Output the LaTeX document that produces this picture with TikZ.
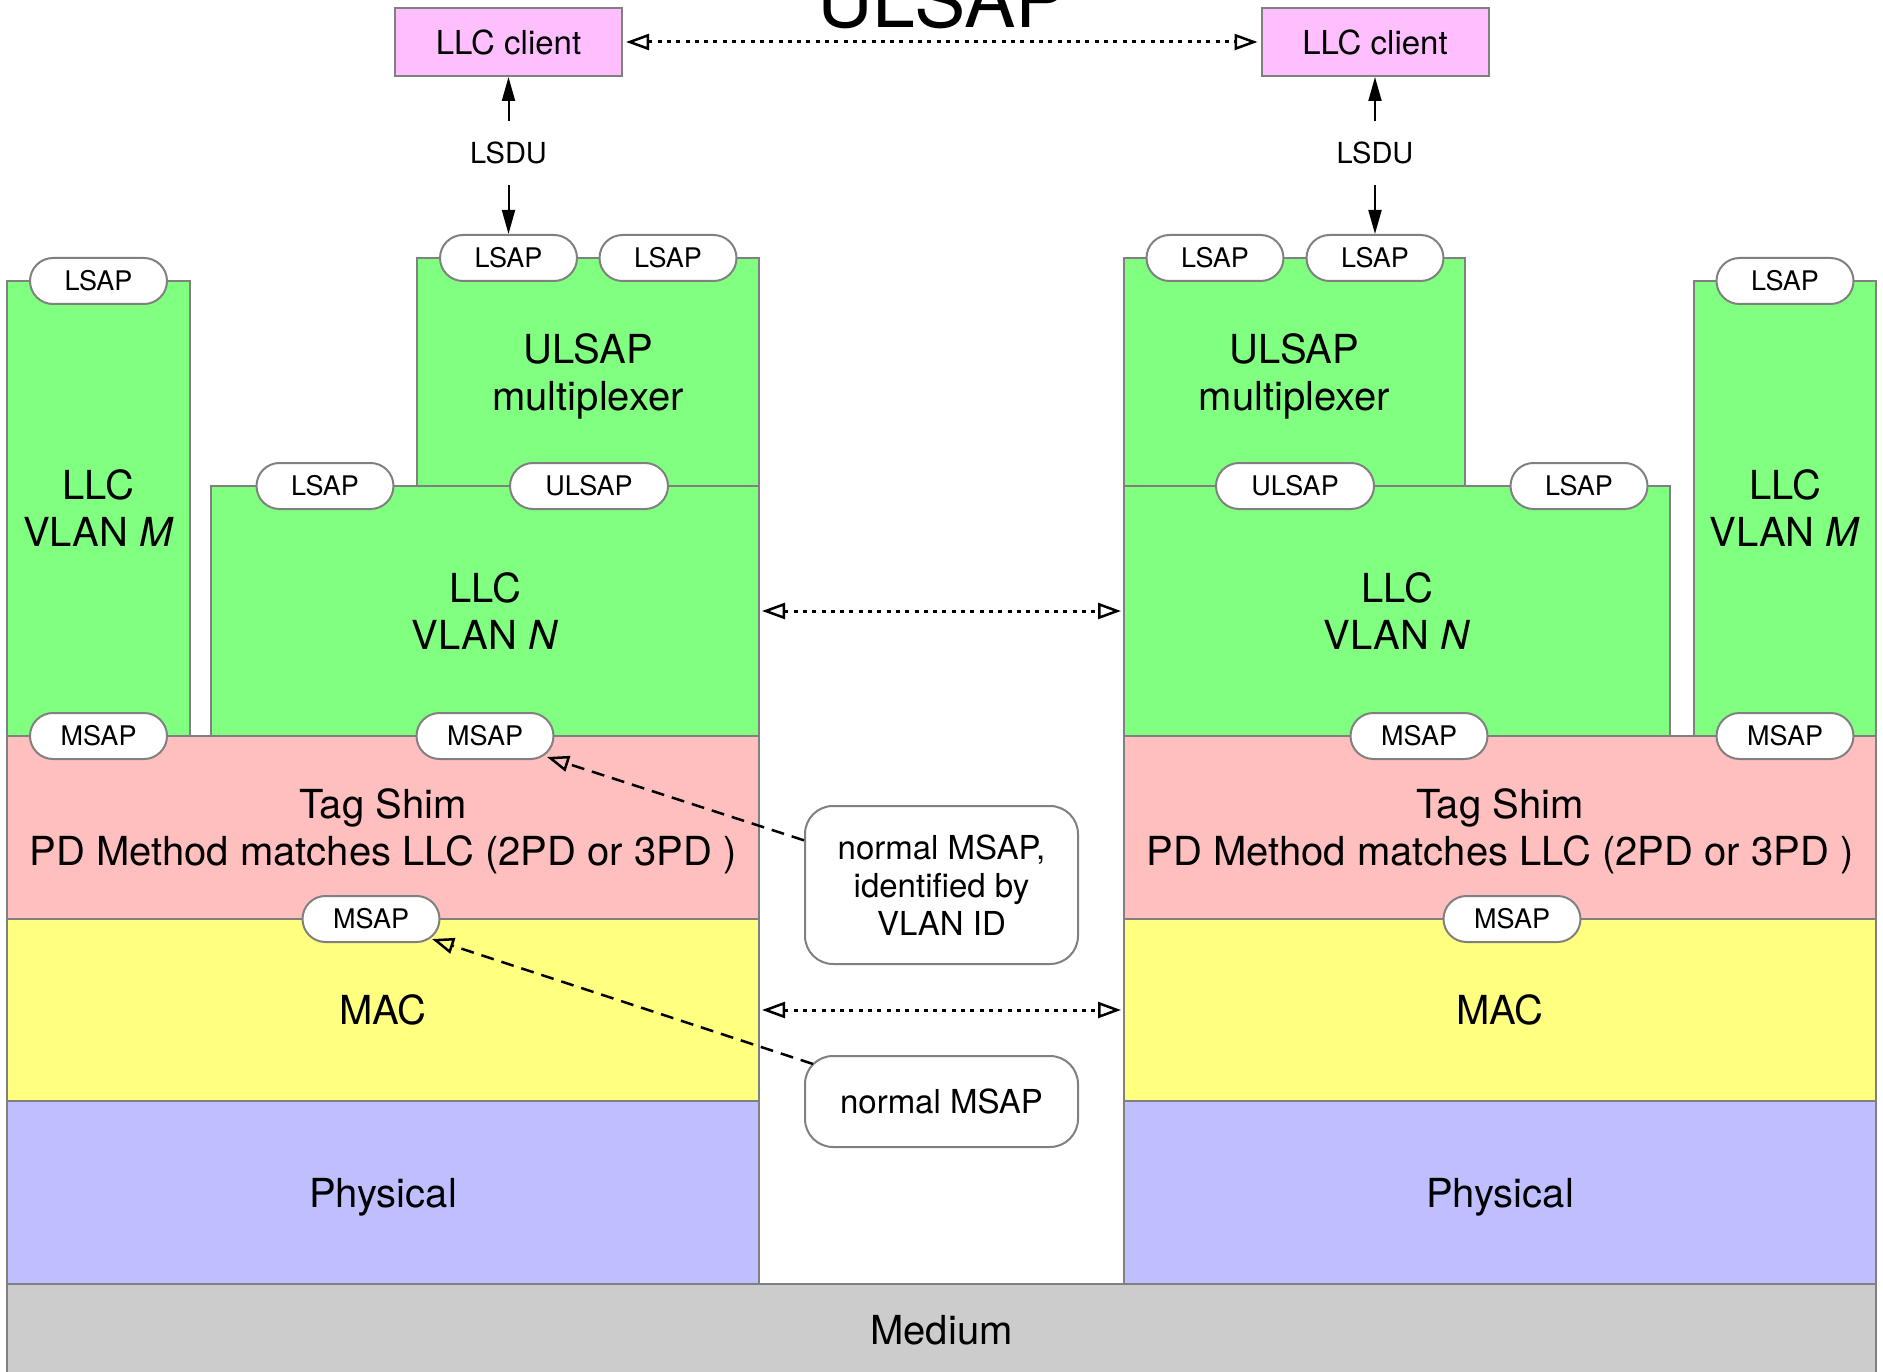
\documentclass[tikz,border=0pt]{standalone}
\usepackage{fontspec}
\setmainfont{TeX Gyre Heros}
\usetikzlibrary{arrows.meta,calc}
\definecolor{bord}{HTML}{808080}
\definecolor{llcgreen}{HTML}{80FF80}
\definecolor{shimpink}{HTML}{FFBFBF}
\definecolor{macyellow}{HTML}{FFFF80}
\definecolor{phyblue}{HTML}{BFBFFF}
\definecolor{medgray}{HTML}{CCCCCC}
\definecolor{clientpink}{HTML}{FFBFFF}
\begin{document}
\begin{tikzpicture}[x=1pt,y=-1pt,
  layer/.style={draw=bord,line width=2pt,inner sep=0pt,align=center,text depth=0pt,font=\fontsize{40}{47}\selectfont},
  pill/.style={draw=bord,fill=white,line width=2pt,rounded corners=23pt,minimum width=137pt,minimum height=46pt,inner sep=0pt,font=\fontsize{27}{32}\selectfont},
  wpill/.style={pill,minimum width=158pt},
  notebox/.style={draw=bord,fill=white,line width=2pt,rounded corners=28pt,minimum width=273pt,inner sep=0pt,align=center,font=\fontsize{33}{38}\selectfont},
  clientbox/.style={draw=bord,fill=clientpink,line width=2pt,minimum width=227pt,minimum height=68pt,inner sep=0pt,font=\fontsize{33}{38}\selectfont},
  lsdu/.style={inner xsep=0pt,inner ysep=21pt,font=\fontsize{29}{34}\selectfont},
  solidarr/.style={line width=2pt,-{Triangle[length=24pt,width=13pt]}},
  opentip/.style={},
  dotarr/.style={line width=3pt,dash pattern=on 4pt off 5.3pt,{Triangle[open,length=23pt,width=16pt,line width=2.5pt]}-{Triangle[open,length=23pt,width=16pt,line width=2.5pt]}},
  dasharr/.style={line width=2.5pt,dash pattern=on 13pt off 8pt,-{Triangle[open,length=22pt,width=16pt,line width=2.5pt]}}
]
\useasboundingbox (0,0) rectangle (1883,1372);

% title
\node[anchor=base,inner sep=0pt,font=\fontsize{77}{80}\selectfont] (title) at (942,28) {ULSAP};

% medium
\node[layer,fill=medgray,minimum width=1869pt,minimum height=92pt] (medium) at (941.5,1330) {Medium};

% left stack
\node[layer,fill=phyblue,minimum width=752pt,minimum height=183pt] (physL) at (383,1192.5) {Physical};
\node[layer,fill=macyellow,minimum width=752pt,minimum height=182pt] (macL) at (383,1010) {MAC};
\node[layer,fill=shimpink,minimum width=752pt,minimum height=183pt] (tagL) at (383,827.5) {Tag Shim\\PD Method matches LLC (2PD or 3PD )};
\node[layer,fill=llcgreen,minimum width=548pt,minimum height=250pt] (vlanNL) at (485,611) {LLC\\VLAN \textit{N}};
\node[layer,fill=llcgreen,minimum width=342pt,minimum height=228pt] (muxL) at (588,372) {ULSAP\\multiplexer};
\node[layer,fill=llcgreen,minimum width=183pt,minimum height=455pt] (vlanML) at (98.5,508.5) {LLC\\VLAN \textit{M}};

% right stack
\node[layer,fill=phyblue,minimum width=752pt,minimum height=183pt] (physR) at (1500,1192.5) {Physical};
\node[layer,fill=macyellow,minimum width=752pt,minimum height=182pt] (macR) at (1500,1010) {MAC};
\node[layer,fill=shimpink,minimum width=752pt,minimum height=183pt] (tagR) at (1500,827.5) {Tag Shim\\PD Method matches LLC (2PD or 3PD )};
\node[layer,fill=llcgreen,minimum width=546pt,minimum height=250pt] (vlanNR) at (1397,611) {LLC\\VLAN \textit{N}};
\node[layer,fill=llcgreen,minimum width=341pt,minimum height=228pt] (muxR) at (1294.5,372) {ULSAP\\multiplexer};
\node[layer,fill=llcgreen,minimum width=182pt,minimum height=455pt] (vlanMR) at (1785,508.5) {LLC\\VLAN \textit{M}};

% left pills
\node[pill] (lsapML) at (98.5,281) {LSAP};
\node[pill] (lsapA) at (508.5,258) {LSAP};
\node[pill] (lsapB) at (668,258) {LSAP};
\node[pill] (lsapNL) at (325,486) {LSAP};
\node[wpill] (ulsapL) at (589,486) {ULSAP};
\node[pill] (msapML) at (98.5,736) {MSAP};
\node[pill] (msapNL) at (485,736) {MSAP};
\node[pill] (msapTL) at (371,919) {MSAP};

% right pills
\node[pill] (lsapC) at (1215,258) {LSAP};
\node[pill] (lsapD) at (1375,258) {LSAP};
\node[pill] (lsapMR) at (1785,281) {LSAP};
\node[wpill] (ulsapR) at (1295,486) {ULSAP};
\node[pill] (lsapNR) at (1579,486) {LSAP};
\node[pill] (msapNR) at (1419,736) {MSAP};
\node[pill] (msapMR) at (1785,736) {MSAP};
\node[pill] (msapTR) at (1512,919) {MSAP};

% clients
\node[clientbox] (clientL) at (508.5,42) {LLC client};
\node[clientbox] (clientR) at (1375,42) {LLC client};

% LSDU labels and arrows
\node[lsdu] (lsduL) at (508.5,153) {LSDU};
\node[lsdu] (lsduR) at (1375,153) {LSDU};
\draw[solidarr] (lsduL.north) -- (clientL.south);
\draw[solidarr] (lsduL.south) -- (lsapA.north);
\draw[solidarr] (lsduR.north) -- (clientR.south);
\draw[solidarr] (lsduR.south) -- (lsapD.north);

% peer arrows
\draw[dotarr,shorten <=3pt,shorten >=3pt] (clientL.east) -- (clientR.west);
\draw[dotarr,shorten <=2pt,shorten >=2pt] (vlanNL.east) -- (vlanNR.west);
\draw[dotarr,shorten <=2pt,shorten >=2pt] (macL.east) -- (macR.west);

% notes
\node[notebox,minimum height=158pt] (note1) at (941.5,885) {normal MSAP,\\identified by\\VLAN ID};
\node[notebox,minimum height=91pt] (note2) at (941.5,1101.5) {normal MSAP};

\draw[dasharr] (note1.162) -- ($(msapNL.center)+(62,21)$);
\draw[dasharr] ($(note2.north west)+(9,9)$) -- ($(msapTL.center)+(61,20)$);
\end{tikzpicture}
\end{document}
